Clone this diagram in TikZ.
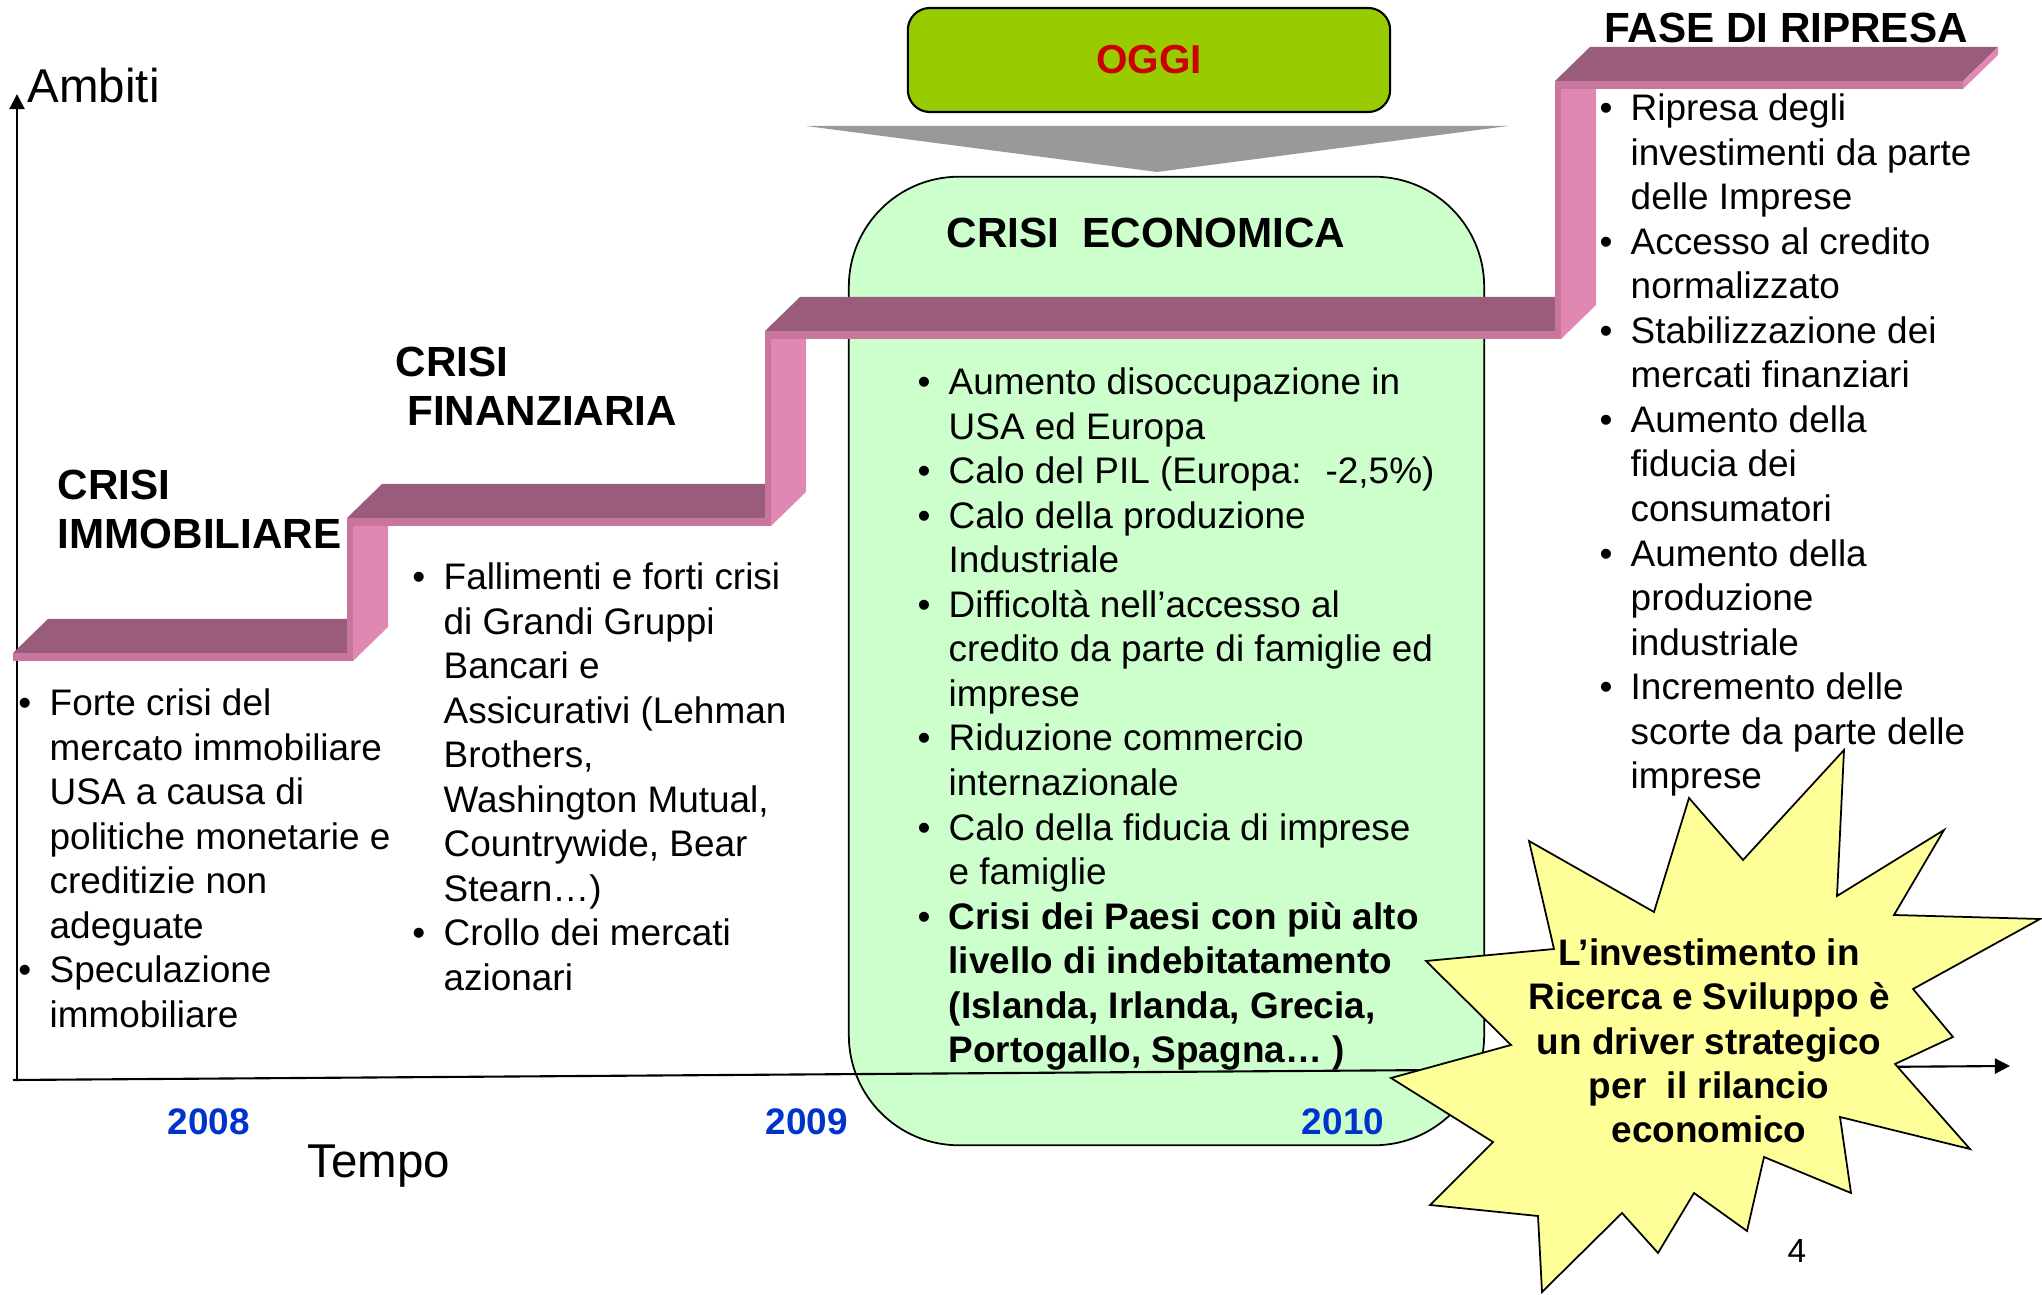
\documentclass[tikz,border=0pt]{standalone}
\usepackage{fontspec}
\setmainfont{Liberation Sans}
\usetikzlibrary{arrows.meta}
\definecolor{stairtop}{RGB}{153,92,122}
\definecolor{stairedge}{RGB}{200,118,158}
\definecolor{stairside}{RGB}{224,136,178}
\definecolor{oggigreen}{RGB}{153,204,0}
\definecolor{oggired}{RGB}{204,0,0}
\definecolor{crisisgreen}{RGB}{204,255,204}
\definecolor{staryellow}{RGB}{255,255,153}
\definecolor{yearblue}{RGB}{0,51,204}
\definecolor{funnelgray}{RGB}{153,153,153}
\tikzset{
    tread/.style = {fill=stairtop},
    edgeband/.style = {fill=stairedge},
    riser/.style = {fill=stairside},
    axis/.style = {line width=0.6pt,-{Triangle[length=4.3pt,width=4.3pt]}},
    crisisbox/.style = {rectangle, draw=black, line width=0.5pt, fill=crisisgreen, rounded corners=1.1cm, minimum width=6.35cm, minimum height=9.68cm},
    oggibox/.style = {rectangle, draw=black, line width=0.6pt, fill=oggigreen, rounded corners=0.22cm, minimum width=4.82cm, minimum height=1.04cm, text=oggired, font=\fontsize{11.5}{13}\selectfont\bfseries},
    burst/.style = {draw=black, line width=0.5pt, fill=staryellow},
    bodytext/.style = {anchor=north west, inner sep=0pt, align=left, font=\fontsize{10.5}{12.67}\selectfont},
    heading/.style = {inner sep=0pt, align=left, font=\fontsize{12}{14.05}\selectfont\bfseries},
    bursttext/.style = {inner sep=0pt, align=center, font=\fontsize{10.5}{12.6}\selectfont\bfseries},
    year/.style = {anchor=base, inner sep=0pt, text=yearblue, font=\fontsize{10.5}{12}\selectfont\bfseries},
    axislabel/.style = {inner sep=0pt, font=\fontsize{13.5}{16}\selectfont},
    pagenum/.style = {anchor=base, inner sep=0pt, font=\fontsize{9.5}{11}\selectfont}
}
\newcommand{\Bul}{\llap{\textbullet\hspace{5.2pt}}}

\begin{document}
\begin{tikzpicture}[x=0.01cm,y=-0.01cm]
\useasboundingbox (0,0) rectangle (2042,1295);
%
\node[crisisbox] at (1166.5,661) (econbox) {};
%
\coordinate (origin) at (13,1080);
\coordinate (xend) at (2010,1066);
\coordinate (ybase) at (17,1080);
\coordinate (yend) at (17,94);
\draw[axis] (ybase) -- (yend);
\draw[axis] (origin) -- (xend);
%
% staircase: tread, front band, riser up to the next tread
\foreach \xa/\xb/\yy/\yn in {13/347/653/518, 347/765/518/331, 765/1555/331/81}{
  \fill[tread] (\xa,\yy) -- (\xb,\yy) -- ++(35,-34) -- (\xa+35,\yy-34) -- cycle;
  \fill[edgeband] (\xa,\yy) rectangle (\xb+6,\yy+8);
  \fill[riser] (\xb+6,\yy+8) -- (\xb+6,\yn) -- ++(35,-34) -- (\xb+41,\yy-26) -- cycle;
  \fill[edgeband] (\xb,\yn) rectangle (\xb+6,\yy+8);
}
\fill[tread] (1555,81) -- (1963,81) -- ++(35,-34) -- (1590,47) -- cycle;
\fill[edgeband] (1555,81) rectangle (1963,89);
\fill[riser] (1963,81) -- (1998,47) -- (1998,55) -- (1963,89) -- cycle;
%
\fill[funnelgray] (806,126) -- (1508,126) -- (1157,172) -- cycle;
\node[oggibox] at (1149,60) (oggi) {OGGI};
%
\node[heading, anchor=north west] at (57,469) (immobtitle) {CRISI\\IMMOBILIARE};
\node[heading, anchor=north west] at (395,346) (finanztitle) {CRISI\\~FINANZIARIA};
\node[heading, anchor=base] at (1146,248) (econtitle) {CRISI~ ECONOMICA};
\node[heading, anchor=base] at (1786,43) (ripresatitle) {FASE DI RIPRESA};
%
\node[bodytext] at (49,688) (immobtext) {\Bul Forte crisi del\\mercato immobiliare\\USA a causa di\\politiche monetarie e\\creditizie non\\adeguate\\\Bul Speculazione\\immobiliare};
\node[bodytext] at (443,562) (finanztext) {\Bul Fallimenti e forti crisi\\di Grandi Gruppi\\Bancari e\\Assicurativi (Lehman\\Brothers,\\Washington Mutual,\\Countrywide, Bear\\Stearn…)\\\Bul Crollo dei mercati\\azionari};
\node[bodytext] at (948,367) (econtext) {\Bul Aumento disoccupazione in\\USA ed Europa\\\Bul Calo del PIL (Europa:~ -2,5\%)\\\Bul Calo della produzione\\Industriale\\\Bul Difficoltà nell’accesso al\\credito da parte di famiglie ed\\imprese\\\Bul Riduzione commercio\\internazionale\\\Bul Calo della fiducia di imprese\\e famiglie\\\Bul\textbf{Crisi dei Paesi con più alto}\\\textbf{livello di indebitatamento}\\\textbf{(Islanda, Irlanda, Grecia,}\\\textbf{Portogallo, Spagna… )}};
\node[bodytext] at (1630,93) (ripresatext) {\Bul Ripresa degli\\investimenti da parte\\delle Imprese\\\Bul Accesso al credito\\normalizzato\\\Bul Stabilizzazione dei\\mercati finanziari\\\Bul Aumento della\\fiducia dei\\consumatori\\\Bul Aumento della\\produzione\\industriale\\\Bul Incremento delle\\scorte da parte delle\\imprese};
%
\node[year] at (209,1135) (y2008) {2008};
\node[year] at (807,1135) (y2009) {2009};
\node[year] at (1343,1135) (y2010) {2010};
\node[axislabel, anchor=base] at (379,1177) (tempo) {Tempo};
\node[axislabel, anchor=base west] at (27,103) (ambiti) {Ambiti};
%
\draw[burst] (1844,750) -- (1837,896) -- (1944,830) -- (1894,915) -- (2040,919)
  -- (1913,989) -- (1953,1037) -- (1895,1064) -- (1970,1149) -- (1840,1117)
  -- (1851,1193) -- (1764,1157) -- (1747,1231) -- (1694,1193) -- (1658,1253)
  -- (1622,1213) -- (1542,1292) -- (1538,1216) -- (1430,1205) -- (1493,1142)
  -- (1391,1078) -- (1511,1045) -- (1426,961) -- (1554,949) -- (1529,841)
  -- (1654,912) -- (1689,798) -- (1743,860) -- cycle;
\node[bursttext] at (1709,1041) (rilancio) {L’investimento in\\Ricerca e Sviluppo è\\un driver strategico\\per~ il rilancio\\economico};
\node[pagenum] at (1797,1262) (page) {4};
\end{tikzpicture}
\end{document}
